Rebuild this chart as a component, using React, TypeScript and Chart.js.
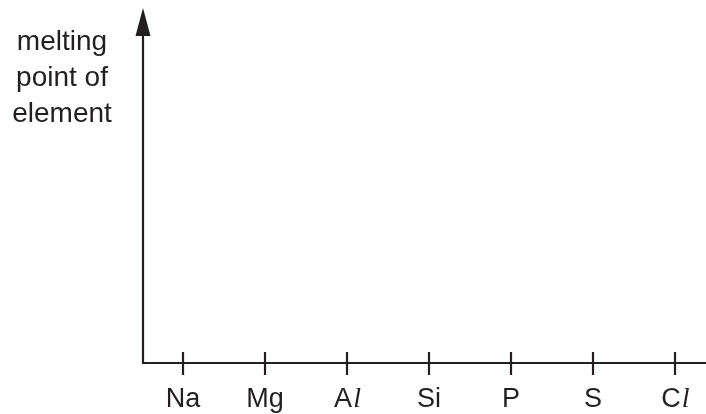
import React, { useEffect, useRef } from "react";
import { Chart, registerables } from "chart.js";

Chart.register(...registerables);

const categories: string[] = ["Na", "Mg", "Al", "Si", "P", "S", "Cl"];
// parts of each label drawn in italic (the chemical-symbol "l")
const italicParts: string[] = ["", "", "l", "", "", "", "l"];
const yTitle: string[] = ["melting", "point of", "element"];
const values: (number | null)[] = [null, null, null, null, null, null, null];

const INK = "#231f20";
const FONT = '"Liberation Sans", Arial, sans-serif';
const SERIF = '"Liberation Serif", "Times New Roman", serif';

const axesPlugin = {
  id: "sketchAxes",
  afterDraw(chart: any) {
    const { ctx, chartArea } = chart;
    const xs = chart.scales.x;
    const left = chartArea.left;
    const bottom = chartArea.bottom;
    const top = chartArea.top;
    ctx.save();
    ctx.strokeStyle = INK;
    ctx.fillStyle = INK;
    ctx.lineWidth = 2.2;
    ctx.lineCap = "butt";
    // x axis
    ctx.beginPath();
    ctx.moveTo(left - 1, bottom);
    ctx.lineTo(chartArea.right, bottom);
    ctx.stroke();
    // y axis
    ctx.beginPath();
    ctx.moveTo(left, bottom + 1);
    ctx.lineTo(left, top + 24);
    ctx.stroke();
    // arrow head
    ctx.beginPath();
    ctx.moveTo(left, top);
    ctx.lineTo(left - 7.5, top + 28);
    ctx.lineTo(left + 7.5, top + 28);
    ctx.closePath();
    ctx.fill();
    // ticks and labels
    ctx.textBaseline = "alphabetic";
    categories.forEach((c, i) => {
      const px = xs.getPixelForValue(i);
      ctx.beginPath();
      ctx.moveTo(px, bottom - 11);
      ctx.lineTo(px, bottom + 12);
      ctx.stroke();
      const it = italicParts[i];
      const normal = it ? c.slice(0, c.length - it.length) : c;
      ctx.font = `27px ${FONT}`;
      const w1 = ctx.measureText(normal).width;
      ctx.font = `italic 28px ${SERIF}`;
      const w2 = it ? ctx.measureText(it).width : 0;
      const x0 = px - (w1 + w2) / 2;
      ctx.font = `27px ${FONT}`;
      ctx.textAlign = "left";
      ctx.fillText(normal, x0, bottom + 44);
      if (it) {
        ctx.font = `italic 28px ${SERIF}`;
        ctx.fillText(it, x0 + w1 + 1, bottom + 44);
      }
    });
    // y title
    ctx.font = `28px ${FONT}`;
    ctx.textAlign = "center";
    yTitle.forEach((t, i) => {
      ctx.fillText(t, 62, 50 + i * 36);
    });
    ctx.restore();
  },
};

export default function App() {
  const ref = useRef<HTMLCanvasElement | null>(null);
  useEffect(() => {
    if (!ref.current) return;
    const chart = new Chart(ref.current, {
      type: "line",
      data: {
        labels: categories,
        datasets: [
          {
            data: values.map((v, i) => ({ x: i, y: v })) as any,
            borderColor: INK,
            pointRadius: 0,
          },
        ],
      },
      options: {
        animation: false,
        responsive: false,
        maintainAspectRatio: false,
        layout: { padding: { left: 143, right: 0, top: 8, bottom: 51 } },
        plugins: { legend: { display: false }, tooltip: { enabled: false } },
        scales: {
          x: { type: "linear", min: -0.488, max: 6.378, display: false },
          y: { min: 0, max: 1, display: false },
        },
      },
      plugins: [axesPlugin],
    });
    return () => chart.destroy();
  }, []);
  return (
    <div style={{ position: "fixed", left: 0, top: 0, width: 706, height: 414, background: "#fff" }}>
      <canvas ref={ref} width={706} height={414} style={{ width: 706, height: 414 }} />
    </div>
  );
}
